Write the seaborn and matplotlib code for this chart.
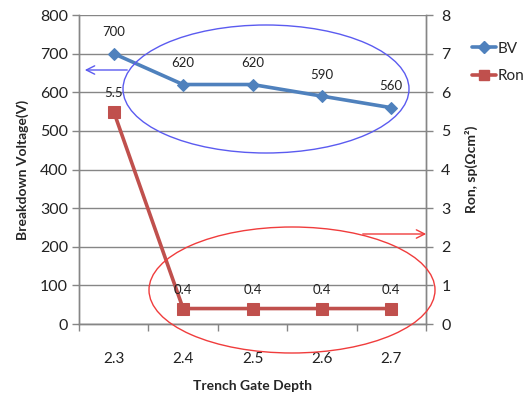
import matplotlib
matplotlib.use("Agg")
import matplotlib.pyplot as plt
from matplotlib.patches import Ellipse, FancyArrowPatch
from matplotlib.lines import Line2D
import seaborn as sns
import pandas as pd

depth = ["2.3", "2.4", "2.5", "2.6", "2.7"]
bv = [700, 620, 620, 590, 560]
ron = [5.5, 0.4, 0.4, 0.4, 0.4]

sns.set_style("white")
plt.rcParams["font.family"] = ["Lato", "DejaVu Sans"]

BLUE = "#4F81BD"
RED = "#C0504D"
GRID = "#868686"

df = pd.DataFrame({"pos": range(len(depth)), "depth": depth, "BV": bv, "Ron": ron})

W, H = 524, 396
fig = plt.figure(figsize=(W / 100, H / 100), dpi=100)
ax = fig.add_axes([79 / W, 1 - 324 / H, (426 - 79) / W, (324 - 15) / H])
ax2 = ax.twinx()

sns.lineplot(data=df, x="pos", y="BV", ax=ax, color=BLUE, lw=2.6,
             marker="D", markersize=6, markeredgecolor=BLUE, zorder=3)
sns.lineplot(data=df, x="pos", y="Ron", ax=ax2, color=RED, lw=2.6,
             marker="s", markersize=8, markeredgecolor=RED, zorder=3)

ax.set_xlim(-0.5, len(depth) - 0.5)
ax.set_ylim(0, 800)
ax2.set_ylim(0, 8)
ax.set_yticks(range(0, 801, 100))
ax2.set_yticks(range(0, 9))

ax.set_xticks(range(len(depth)))
ax.set_xticklabels(depth)
ax.set_xticks([i - 0.5 for i in range(len(depth) + 1)], minor=True)
ax.tick_params(axis="x", which="major", length=0, pad=20, labelsize=11, labelcolor="#222222")
ax.tick_params(axis="x", which="minor", length=5, width=1, color=GRID, direction="out", bottom=True)
ax.tick_params(axis="y", length=5, width=1, color=GRID, direction="out", labelsize=11.5,
               labelcolor="#222222", pad=3, left=True)
ax2.tick_params(axis="y", length=5, width=1, color=GRID, direction="out", labelsize=11.5,
                labelcolor="#222222", pad=6, right=True)

ax.grid(axis="y", color=GRID, lw=1)
ax.set_axisbelow(True)
for a in (ax, ax2):
    a.spines["top"].set_visible(False)
    for s in ("left", "right", "bottom"):
        a.spines[s].set_color(GRID)
        a.spines[s].set_linewidth(1)

ax.set_xlabel("Trench Gate Depth", fontsize=10, fontweight="bold", labelpad=10)
ax.set_ylabel("Breakdown Voltage(V)", fontsize=10, fontweight="bold", labelpad=8)
ax2.set_ylabel("Ron, sp(Ωcm²)", fontsize=10, fontweight="bold", labelpad=10)

for i, v in enumerate(bv):
    ax.annotate(f"{v}", (i, v), xytext=(0, 11), textcoords="offset points",
                ha="center", va="bottom", fontsize=9.5, color="#222222")
for i, v in enumerate(ron):
    ax2.annotate(f"{v}", (i, v), xytext=(0, 9), textcoords="offset points",
                 ha="center", va="bottom", fontsize=9.5, color="#222222")

handles = [
    Line2D([], [], color=BLUE, lw=2.6, marker="D", markersize=6),
    Line2D([], [], color=RED, lw=2.6, marker="s", markersize=7),
]
fig.legend(handles, ["BV", "Ron"], loc="upper left", bbox_to_anchor=(458 / W, 1 - 28 / H),
           frameon=False, fontsize=11, handlelength=1.6, handletextpad=0.1,
           labelspacing=0.9)
if ax.get_legend():
    ax.get_legend().remove()
if ax2.get_legend():
    ax2.get_legend().remove()


def fpt(x, y):
    return (x / W, 1 - y / H)


fig.patches.append(Ellipse(fpt(266, 89), 286 / W, 128 / H, fill=False,
                           ec="#5B5BF0", lw=1, transform=fig.transFigure))
fig.patches.append(Ellipse(fpt(292, 290), 286 / W, 126 / H, fill=False,
                           ec="#F03C3C", lw=1, transform=fig.transFigure))
fig.patches.append(FancyArrowPatch(fpt(130, 70), fpt(82, 70), arrowstyle="->,head_length=6,head_width=3",
                                   color="#5B5BF0", lw=1, transform=fig.transFigure))
fig.patches.append(FancyArrowPatch(fpt(360, 234), fpt(429, 234), arrowstyle="->,head_length=6,head_width=3",
                                   color="#F03C3C", lw=1, transform=fig.transFigure))

fig.savefig("out.png", dpi=100)
